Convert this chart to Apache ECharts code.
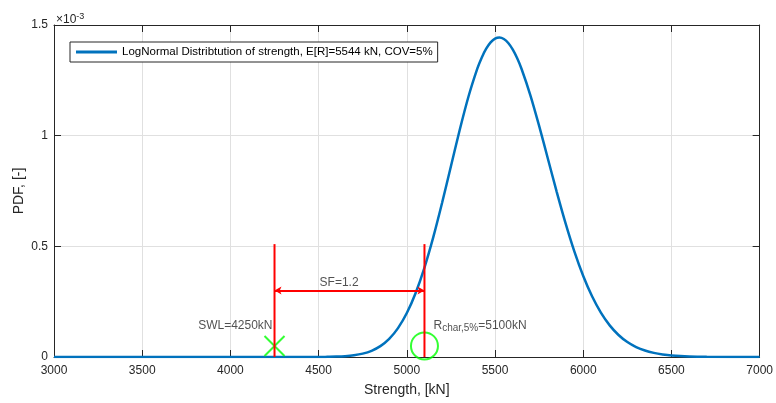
<!DOCTYPE html>
<html>
<head>
<meta charset="utf-8">
<script src="https://cdn.jsdelivr.net/npm/echarts@6/dist/echarts.min.js"></script>
<style>
  html, body { margin: 0; padding: 0; background: #ffffff; }
  #chart { width: 776px; height: 403px; }
</style>
</head>
<body>
<div id="chart"></div>
<script>
// Strength grid [kN] and the lognormal PDF at each point (in units of 1e-3)
const strengthKN = [3000, 3500, 4000, 4500, 4550, 4600, 4650, 4700, 4750, 4800, 4850, 4900, 4950,
  5000, 5050, 5100, 5150, 5200, 5250, 5300, 5350, 5400, 5425, 5450, 5475, 5500, 5525, 5550, 5575,
  5600, 5625, 5650, 5700, 5750, 5800, 5850, 5900, 5950, 6000, 6050, 6100, 6150, 6200, 6250, 6300,
  6350, 6400, 6450, 6500, 6600, 6700, 7000];
const pdfE3 = [0, 0, 0, 0, 0.0008, 0.0018, 0.0038, 0.0078, 0.0152, 0.0280, 0.0490, 0.0818, 0.1304,
  0.1986, 0.2895, 0.4043, 0.5416, 0.6968, 0.8620, 1.0266, 1.1780, 1.3037, 1.3535, 1.3930, 1.4216,
  1.4385, 1.4437, 1.4370, 1.4188, 1.3897, 1.3505, 1.3023, 1.1836, 1.0441, 0.8946, 0.7451, 0.6038,
  0.4763, 0.3660, 0.2741, 0.2003, 0.1429, 0.0995, 0.0677, 0.0451, 0.0293, 0.0187, 0.0117, 0.0071,
  0.0025, 0.0008, 0];

// Axis ticks
const xTicks = [3000, 3500, 4000, 4500, 5000, 5500, 6000, 6500, 7000];
const yTicks = [0, 0.5, 1, 1.5];

// Design values
const meanKN = 5544;
const covPct = 5;
const swlKN = 4250;
const rCharKN = 5100;
const safetyFactor = 1.2;
const markerLevel = 0.05;     // height of the SWL / R_char markers
const guideTop = 0.51;        // top of the red guide lines
const arrowLevel = 0.3;       // height of the SF arrow

const FONT = '"Liberation Sans", Arial, Helvetica, sans-serif';
const TXT = '#262626';
const RED = '#ff0000';
const GREEN = '#00ff00';
const BLUE = '#0072bd';

const seriesName = 'LogNormal Distribtution of strength, E[R]=' + meanKN + ' kN, COV=' + covPct + '%';

const chart = echarts.init(document.getElementById('chart'), null, { renderer: 'canvas' });

const xBase = {
  type: 'value', min: xTicks[0], max: xTicks[xTicks.length - 1], interval: xTicks[1] - xTicks[0]
};
const yBase = {
  type: 'value', min: yTicks[0], max: yTicks[yTicks.length - 1], interval: yTicks[1] - yTicks[0]
};

chart.setOption({
  animation: false,
  backgroundColor: '#ffffff',
  textStyle: { fontFamily: FONT },
  grid: { left: 54, right: 14, top: 25, bottom: 46, containLabel: false },
  graphic: [{
    type: 'text',
    left: 56, top: 10,
    style: {
      text: '{a|×10}{b|-3}',
      rich: {
        a: { fontSize: 12, fontFamily: FONT, fill: TXT, lineHeight: 14, padding: [4, 0, 0, 0], verticalAlign: 'bottom' },
        b: { fontSize: 9, fontFamily: FONT, fill: TXT, lineHeight: 10, verticalAlign: 'top' }
      }
    }
  }],
  legend: {
    left: 70, top: 42,
    orient: 'horizontal',
    padding: [4, 5, 4, 6],
    backgroundColor: '#ffffff',
    borderColor: '#262626',
    borderWidth: 1,
    itemWidth: 41, itemHeight: 3,
    textStyle: { fontSize: 11.5, color: '#000000', fontFamily: FONT },
    data: [{ name: seriesName, icon: 'rect' }]
  },
  xAxis: [
    Object.assign({}, xBase, {
      position: 'bottom',
      name: 'Strength, [kN]',
      nameLocation: 'middle',
      nameGap: 26,
      nameMoveOverlap: false,
      nameTextStyle: { fontSize: 14, color: TXT, fontFamily: FONT },
      axisLine: { show: true, lineStyle: { color: TXT, width: 1 } },
      axisTick: { show: true, inside: true, length: 7, lineStyle: { color: TXT } },
      axisLabel: { fontSize: 12, color: TXT, margin: 8, fontFamily: FONT, formatter: v => String(v) },
      splitLine: { show: true, lineStyle: { color: '#e0e0e0', width: 1 } }
    }),
    Object.assign({}, xBase, {
      position: 'top',
      axisLine: { show: true, onZero: false, lineStyle: { color: TXT, width: 1 } },
      axisTick: { show: true, inside: true, length: 7, lineStyle: { color: TXT } },
      axisLabel: { show: false },
      splitLine: { show: false }
    })
  ],
  yAxis: [
    Object.assign({}, yBase, {
      position: 'left',
      name: 'PDF, [-]',
      nameLocation: 'middle',
      nameGap: 28,
      nameMoveOverlap: false,
      nameTextStyle: { fontSize: 14, color: TXT, fontFamily: FONT },
      axisLine: { show: true, lineStyle: { color: TXT, width: 1 } },
      axisTick: { show: true, inside: true, length: 7, lineStyle: { color: TXT } },
      axisLabel: { fontSize: 12, color: TXT, margin: 6, fontFamily: FONT, formatter: v => String(v) },
      splitLine: { show: true, lineStyle: { color: '#e0e0e0', width: 1 } }
    }),
    Object.assign({}, yBase, {
      position: 'right',
      axisLine: { show: true, onZero: false, lineStyle: { color: TXT, width: 1 } },
      axisTick: { show: true, inside: true, length: 7, lineStyle: { color: TXT } },
      axisLabel: { show: false },
      splitLine: { show: false }
    })
  ],
  series: [
    {
      name: seriesName,
      type: 'line',
      data: strengthKN.map((x, i) => [x, pdfE3[i]]),
      smooth: 0.3,
      symbol: 'none',
      lineStyle: { color: BLUE, width: 2.5 },
      itemStyle: { color: BLUE },
      z: 2
    },
    {
      name: 'swlMarker',
      type: 'scatter',
      data: [[swlKN, markerLevel]],
      symbol: 'path://M0,0L10,10M10,0L0,10',
      symbolSize: 20,
      itemStyle: { color: 'transparent', borderColor: GREEN, borderWidth: 2 },
      z: 3
    },
    {
      name: 'rCharMarker',
      type: 'scatter',
      data: [[rCharKN, markerLevel]],
      symbol: 'circle',
      symbolSize: 27,
      itemStyle: { color: 'transparent', borderColor: GREEN, borderWidth: 2 },
      z: 3
    },
    {
      name: 'swlGuide',
      type: 'line',
      data: [[swlKN, 0], [swlKN, guideTop]],
      symbol: 'none',
      lineStyle: { color: RED, width: 2 },
      z: 4
    },
    {
      name: 'rCharGuide',
      type: 'line',
      data: [[rCharKN, 0], [rCharKN, guideTop]],
      symbol: 'none',
      lineStyle: { color: RED, width: 2 },
      z: 4,
      markLine: {
        silent: true,
        symbol: ['arrow', 'arrow'],
        symbolSize: [6, 7],
        label: { show: false },
        lineStyle: { color: RED, width: 2, type: 'solid' },
        data: [[{ coord: [rCharKN, arrowLevel] }, { coord: [swlKN, arrowLevel] }]]
      }
    },
    {
      name: 'annotations',
      type: 'scatter',
      symbolSize: 0,
      silent: true,
      z: 5,
      data: [
        {
          value: [swlKN, 0.14],
          label: {
            show: true, position: 'left', distance: 2,
            formatter: 'SWL=' + swlKN + 'kN',
            fontSize: 12, color: TXT, fontFamily: FONT
          }
        },
        {
          value: [4616, 0.335],
          label: {
            show: true, position: 'inside',
            formatter: 'SF=' + safetyFactor,
            fontSize: 12, color: TXT, fontFamily: FONT
          }
        },
        {
          value: [rCharKN, 0.138],
          label: {
            show: true, position: 'right', distance: 9,
            formatter: '{a|R}{b|char,5%}{a|=' + rCharKN + 'kN}',
            rich: {
              a: { fontSize: 12, color: TXT, fontFamily: FONT, lineHeight: 14, verticalAlign: 'top' },
              b: { fontSize: 10, color: TXT, fontFamily: FONT, lineHeight: 12, padding: [8, 0, 0, 0], verticalAlign: 'bottom' }
            }
          }
        }
      ]
    }
  ]
});
</script>
</body>
</html>
